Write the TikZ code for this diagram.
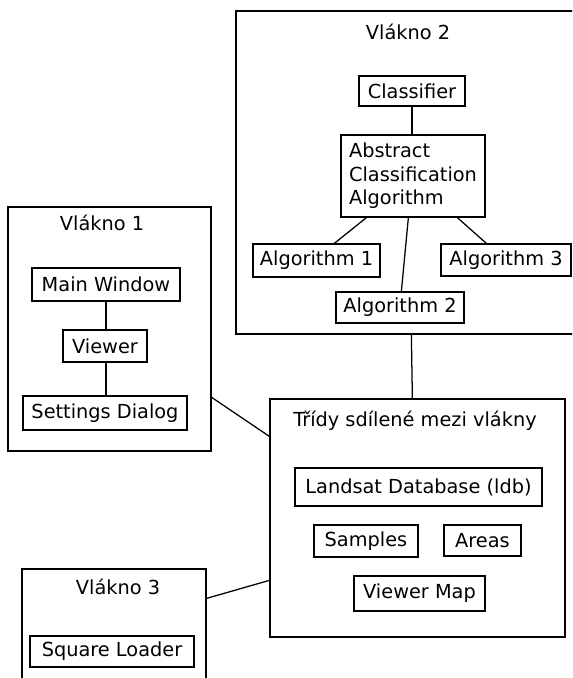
\documentclass[tikz,border=0pt]{standalone}
\usepackage{fontspec}
\setmainfont{DejaVu Sans}
\usetikzlibrary{calc}
\tikzset{
  bx/.style 2 args={draw, line width=0.95pt, inner sep=0pt, minimum width=#1*0.75pt, minimum height=#2*0.75pt},
  title/.style={inner sep=0pt},
  conn/.style={line width=0.95pt}
}
\begin{document}
\begin{tikzpicture}[x=0.75pt,y=-0.75pt,font=\fontsize{14.5}{17.6}\selectfont]
\useasboundingbox (0,0) rectangle (572,678);
\clip (0,0) rectangle (572,678);
% containers
\node[bx={339}{323}] (v2) at (405.5,172.5) {};
\node[bx={203}{244}] (v1) at (109.5,329) {};
\node[bx={184}{121}] (v3) at (114,629.5) {};
\node[bx={295}{238}] (sh) at (417.5,518) {};
% titles
\node[title] (t2) at (408,32) {Vlákno 2};
\node[title] (t1) at (102,223) {Vlákno 1};
\node[title] (t3) at (118,587) {Vlákno 3};
\node[title] (ts) at (415,421) {Třídy sdílené mezi vlákny};
% Vlakno 2
\node[bx={106}{30}] (cls) at (412,91) {Classifier};
\node[bx={144}{82}, align=left] (aca) at (413,176) {Abstract\\Classification\\Algorithm};
\node[bx={127}{33}] (a1) at (316.5,260.5) {Algorithm 1};
\node[bx={128}{31}] (a2) at (400,307.5) {Algorithm 2};
\node[bx={130}{32}] (a3) at (506,260) {Algorithm 3};
% Vlakno 1
\node[bx={148}{33}] (mw) at (106,284.5) {Main Window};
\node[bx={84}{32}] (vw) at (105,346) {Viewer};
\node[bx={164}{34}] (sd) at (105,413) {Settings Dialog};
% Vlakno 3
\node[bx={164}{31}] (sl) at (112,651.5) {Square Loader};
% shared
\node[bx={247}{38}] (ldb) at (418.5,487) {Landsat Database (ldb)};
\node[bx={104}{32}] (smp) at (366,541) {Samples};
\node[bx={77}{31}] (ar) at (482.5,540.5) {Areas};
\node[bx={131}{35}] (vm) at (419.5,593.5) {Viewer Map};
% connectors
\draw[conn] (cls) -- (cls |- aca.north);
\draw[conn] ($(aca.south west)+(26,0)$) -- ($(a1.north west)+(82,0)$);
\draw[conn] ($(aca.south west)+(68,0)$) -- ($(a2.north west)+(66,0)$);
\draw[conn] ($(aca.south west)+(117,0)$) -- ($(a3.north west)+(46,0)$);
\draw[conn] (mw.south -| 106,0) -- (vw.north -| 106,0);
\draw[conn] (vw.south -| 106,0) -- (sd.north -| 106,0);
\draw[conn] ($(v2.south west)+(176,0)$) -- ($(sh.north west)+(143,0)$);
\draw[conn] ($(v1.north east)+(0,191)$) -- ($(sh.north west)+(0,38)$);
\draw[conn] ($(v3.north east)+(0,30)$) -- ($(sh.north west)+(0,182)$);
\end{tikzpicture}
\end{document}
